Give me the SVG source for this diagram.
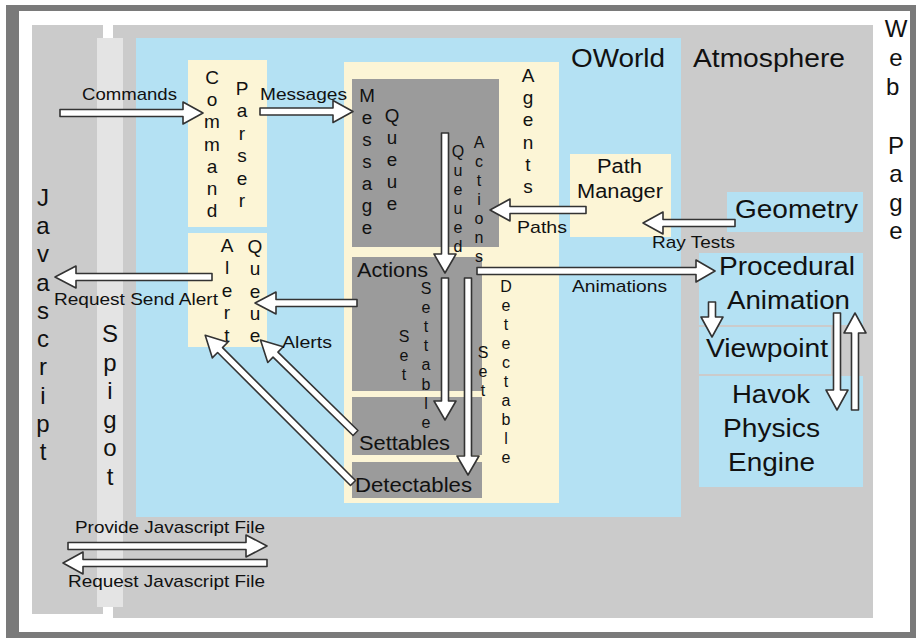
<svg xmlns="http://www.w3.org/2000/svg" width="916" height="638" viewBox="0 0 916 638">
<style>
text{font-family:"Liberation Sans",Arial,sans-serif;fill:#111}
.gray{fill:#cbcbcb}
.blue{fill:#b4e1f3}
.cream{fill:#fcf5d6}
.dark{fill:#9b9b9b}
.arr{fill:#fff;stroke:#333;stroke-width:1.6;stroke-linejoin:round}
.v20{font-size:19px;text-anchor:middle}
.v22{font-size:18.8px;text-anchor:middle}
.v17{font-size:16px;text-anchor:middle}
.v26{font-size:24px;text-anchor:middle}
.big{font-size:25px}
.mid{font-size:20px}
.sm{font-size:17px}
</style>
<g id="frame">
<rect x="6" y="5" width="910" height="633" fill="#7a7a7a"/>
<rect x="19" y="11" width="891" height="621" fill="#fff"/>
</g>
<g id="webpage">
<text class="v26"><tspan x="896" y="37">W</tspan><tspan x="896" y="66">e</tspan><tspan x="896" y="95">b</tspan> <tspan x="896" y="154">P</tspan><tspan x="896" y="182">a</tspan><tspan x="896" y="211">g</tspan><tspan x="896" y="239">e</tspan></text>
</g>
<g id="javascript">
<rect class="gray" x="32" y="25" width="71" height="589"/>
<text class="v26"><tspan x="43" y="206">J</tspan><tspan x="43" y="234">a</tspan><tspan x="43" y="262">v</tspan><tspan x="43" y="291">a</tspan><tspan x="43" y="319">s</tspan><tspan x="43" y="347">c</tspan><tspan x="43" y="375">r</tspan><tspan x="43" y="404">i</tspan><tspan x="43" y="432">p</tspan><tspan x="43" y="460">t</tspan></text>
</g>
<g id="atmosphere">
<rect class="gray" x="113" y="25" width="760" height="593"/>
<text class="big" x="693" y="67" textLength="152" lengthAdjust="spacingAndGlyphs">Atmosphere</text>
</g>
<g id="spigot">
<rect x="97" y="38" width="26" height="569" fill="#e4e4e4"/>
<text class="v26"><tspan x="110" y="342">S</tspan><tspan x="110" y="371">p</tspan><tspan x="110" y="399">i</tspan><tspan x="110" y="428">g</tspan><tspan x="110" y="456">o</tspan><tspan x="110" y="485">t</tspan></text>
</g>
<g id="oworld">
<rect class="blue" x="136" y="38" width="545" height="479"/>
<text class="big" x="571" y="67" textLength="94" lengthAdjust="spacingAndGlyphs">OWorld</text>
</g>
<g id="command-parser">
<rect class="cream" x="188" y="60" width="79" height="167"/>
<text class="v20"><tspan x="212" y="84">C</tspan><tspan x="212" y="106">o</tspan><tspan x="212" y="128">m</tspan><tspan x="212" y="151">m</tspan><tspan x="212" y="173">a</tspan><tspan x="212" y="195">n</tspan><tspan x="212" y="217">d</tspan></text>
<text class="v20"><tspan x="242" y="95">P</tspan><tspan x="242" y="117">a</tspan><tspan x="242" y="140">r</tspan><tspan x="242" y="162">s</tspan><tspan x="242" y="185">e</tspan><tspan x="242" y="207">r</tspan></text>
</g>
<g id="alert-queue">
<rect class="cream" x="188" y="233" width="79" height="114"/>
<text class="v20"><tspan x="227" y="252">A</tspan><tspan x="227" y="274">l</tspan><tspan x="227" y="297">e</tspan><tspan x="227" y="319">r</tspan><tspan x="227" y="342">t</tspan></text>
<text class="v20"><tspan x="255" y="253">Q</tspan><tspan x="255" y="275">u</tspan><tspan x="255" y="298">e</tspan><tspan x="255" y="320">u</tspan><tspan x="255" y="342">e</tspan></text>
</g>
<g id="agents">
<rect class="cream" x="344" y="62" width="215" height="441"/>
<text class="v20"><tspan x="528" y="82">A</tspan><tspan x="528" y="104">g</tspan><tspan x="528" y="126">e</tspan><tspan x="528" y="149">n</tspan><tspan x="528" y="171">t</tspan><tspan x="528" y="193">s</tspan></text>
</g>
<g id="message-queue">
<rect class="dark" x="352" y="79" width="147" height="168"/>
<text class="v22"><tspan x="367" y="102">M</tspan><tspan x="367" y="124">e</tspan><tspan x="367" y="146">s</tspan><tspan x="367" y="168">s</tspan><tspan x="367" y="190">a</tspan><tspan x="367" y="212">g</tspan><tspan x="367" y="234">e</tspan></text>
<text class="v22"><tspan x="392" y="122">Q</tspan><tspan x="392" y="144">u</tspan><tspan x="392" y="166">e</tspan><tspan x="392" y="188">u</tspan><tspan x="392" y="210">e</tspan></text>
</g>
<g id="actions">
<rect class="dark" x="352" y="257" width="130" height="134"/>
<text class="mid" x="357" y="277" textLength="71" lengthAdjust="spacingAndGlyphs">Actions</text>
</g>
<g id="settables">
<rect class="dark" x="352" y="397" width="130" height="58"/>
<text class="mid" x="359" y="450" textLength="91" lengthAdjust="spacingAndGlyphs">Settables</text>
</g>
<g id="detectables">
<rect class="dark" x="352" y="462" width="130" height="36"/>
<text class="mid" x="355" y="492" textLength="117" lengthAdjust="spacingAndGlyphs">Detectables</text>
</g>
<g id="path-manager">
<rect class="cream" x="570" y="154" width="101" height="83"/>
<text class="mid" x="597" y="173" textLength="45" lengthAdjust="spacingAndGlyphs">Path</text>
<text class="mid" x="577" y="198" textLength="86" lengthAdjust="spacingAndGlyphs">Manager</text>
</g>
<g id="geometry">
<rect class="blue" x="727" y="192" width="136" height="40"/>
<text class="big" x="735" y="218" textLength="123" lengthAdjust="spacingAndGlyphs">Geometry</text>
</g>
<g id="procedural-animation">
<rect class="blue" x="699" y="253" width="164" height="72"/>
<text class="big" x="719" y="275" textLength="136" lengthAdjust="spacingAndGlyphs">Procedural</text>
<text class="big" x="727" y="309" textLength="123" lengthAdjust="spacingAndGlyphs">Animation</text>
</g>
<g id="viewpoint">
<rect class="blue" x="699" y="327" width="132" height="47"/>
<text class="big" x="706" y="357" textLength="122" lengthAdjust="spacingAndGlyphs">Viewpoint</text>
</g>
<g id="havok">
<rect class="blue" x="699" y="376" width="164" height="111"/>
<text class="big" x="732" y="403" textLength="78" lengthAdjust="spacingAndGlyphs">Havok</text>
<text class="big" x="723" y="437" textLength="97" lengthAdjust="spacingAndGlyphs">Physics</text>
<text class="big" x="728" y="471" textLength="87" lengthAdjust="spacingAndGlyphs">Engine</text>
</g>
<g id="connectors">
<polygon class="arr" transform="translate(60,113)" points="0,-3.5 123,-3.5 123,-11 143,0 123,11 123,3.5 0,3.5"/>
<polygon class="arr" transform="translate(260,111.5)" points="0,-3.5 73,-3.5 73,-11 93,0 73,11 73,3.5 0,3.5"/>
<polygon class="arr" transform="translate(445,133) rotate(90)" points="0,-3.5 121,-3.5 121,-11 140,0 121,11 121,3.5 0,3.5"/>
<polygon class="arr" transform="translate(586,210) rotate(180)" points="0,-3.5 76,-3.5 76,-11 96,0 76,11 76,3.5 0,3.5"/>
<polygon class="arr" transform="translate(735,223) rotate(180)" points="0,-3.5 72,-3.5 72,-11 92,0 72,11 72,3.5 0,3.5"/>
<polygon class="arr" transform="translate(477,271)" points="0,-3.5 219,-3.5 219,-11 238,0 219,11 219,3.5 0,3.5"/>
<polygon class="arr" transform="translate(712,302) rotate(90)" points="0,-3.5 15,-3.5 15,-11 35,0 15,11 15,3.5 0,3.5"/>
<polygon class="arr" transform="translate(837,313) rotate(90)" points="0,-3.5 77,-3.5 77,-11 97,0 77,11 77,3.5 0,3.5"/>
<polygon class="arr" transform="translate(855,410) rotate(-90)" points="0,-3.5 77,-3.5 77,-11 97,0 77,11 77,3.5 0,3.5"/>
<polygon class="arr" transform="translate(357,303) rotate(180)" points="0,-3.5 81,-3.5 81,-11 102,0 81,11 81,3.5 0,3.5"/>
<polygon class="arr" transform="translate(212,277) rotate(180)" points="0,-3.5 136,-3.5 136,-11 157,0 136,11 136,3.5 0,3.5"/>
<polygon class="arr" transform="translate(355.5,433) rotate(-135.6)" points="0,-3.5 112,-3.5 112,-11 133,0 112,11 112,3.5 0,3.5"/>
<polygon class="arr" transform="translate(353,483) rotate(-135)" points="0,-3.5 188,-3.5 188,-11 209,0 188,11 188,3.5 0,3.5"/>
<polygon class="arr" transform="translate(445,278) rotate(90)" points="0,-3.5 123,-3.5 123,-11 142,0 123,11 123,3.5 0,3.5"/>
<polygon class="arr" transform="translate(468,278) rotate(90)" points="0,-3.5 178,-3.5 178,-11 197,0 178,11 178,3.5 0,3.5"/>
<polygon class="arr" transform="translate(68,546)" points="0,-3.5 178,-3.5 178,-11 199,0 178,11 178,3.5 0,3.5"/>
<polygon class="arr" transform="translate(267,563) rotate(180)" points="0,-3.5 184,-3.5 184,-11 204,0 184,11 184,3.5 0,3.5"/>
<text class="sm" x="82" y="100" textLength="95" lengthAdjust="spacingAndGlyphs">Commands</text>
<text class="sm" x="260" y="100" textLength="87" lengthAdjust="spacingAndGlyphs">Messages</text>
<text class="v17"><tspan x="458" y="157">Q</tspan><tspan x="458" y="176">u</tspan><tspan x="458" y="195">e</tspan><tspan x="458" y="214">u</tspan><tspan x="458" y="233">e</tspan><tspan x="458" y="252">d</tspan></text>
<text class="v17"><tspan x="479" y="148">A</tspan><tspan x="479" y="167">c</tspan><tspan x="479" y="186">t</tspan><tspan x="479" y="205">i</tspan><tspan x="479" y="224">o</tspan><tspan x="479" y="243">n</tspan><tspan x="479" y="262">s</tspan></text>
<text class="sm" x="517" y="233" textLength="50" lengthAdjust="spacingAndGlyphs">Paths</text>
<text class="sm" x="652" y="248" textLength="83" lengthAdjust="spacingAndGlyphs">Ray Tests</text>
<text class="sm" x="572" y="292" textLength="95" lengthAdjust="spacingAndGlyphs">Animations</text>
<text class="v17"><tspan x="404" y="342">S</tspan><tspan x="404" y="361">e</tspan><tspan x="404" y="380">t</tspan></text>
<text class="v17"><tspan x="426" y="294">S</tspan><tspan x="426" y="313">e</tspan><tspan x="426" y="332">t</tspan><tspan x="426" y="351">t</tspan><tspan x="426" y="370">a</tspan><tspan x="426" y="390">b</tspan><tspan x="426" y="409">l</tspan><tspan x="426" y="428">e</tspan></text>
<text class="v17"><tspan x="483" y="358">S</tspan><tspan x="483" y="377">e</tspan><tspan x="483" y="396">t</tspan></text>
<text class="v17"><tspan x="506" y="292">D</tspan><tspan x="506" y="311">e</tspan><tspan x="506" y="330">t</tspan><tspan x="506" y="349">e</tspan><tspan x="506" y="368">c</tspan><tspan x="506" y="387">t</tspan><tspan x="506" y="406">a</tspan><tspan x="506" y="425">b</tspan><tspan x="506" y="444">l</tspan><tspan x="506" y="463">e</tspan></text>
<text class="sm" x="54" y="305" textLength="164" lengthAdjust="spacingAndGlyphs">Request Send Alert</text>
<text class="sm" x="282" y="348" textLength="50" lengthAdjust="spacingAndGlyphs">Alerts</text>
<text class="sm" x="75" y="533" textLength="190" lengthAdjust="spacingAndGlyphs">Provide Javascript File</text>
<text class="sm" x="68" y="587" textLength="197" lengthAdjust="spacingAndGlyphs">Request Javascript File</text>
</g>
</svg>
